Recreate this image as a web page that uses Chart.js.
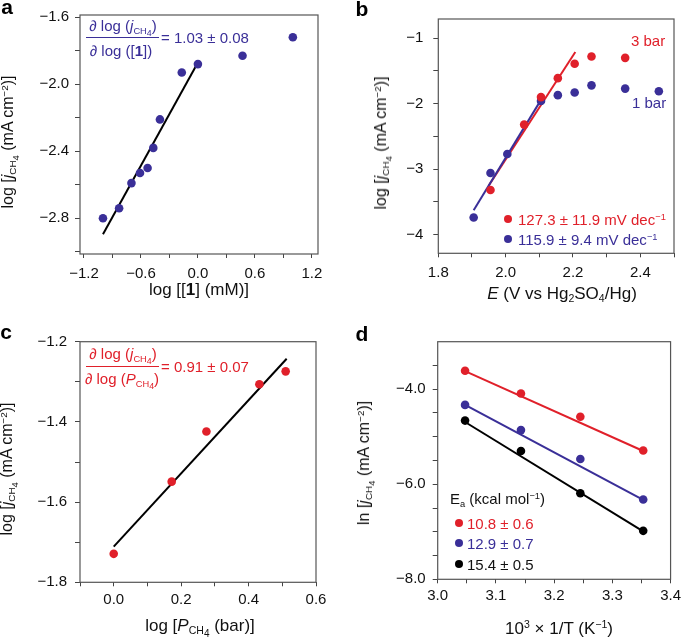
<!doctype html>
<html>
<head>
<meta charset="utf-8">
<title>CH4 oxidation kinetics</title>
<script src="https://cdn.jsdelivr.net/npm/chart.js@4.4.0/dist/chart.umd.min.js"></script>
<style>
    body { margin: 0; background: #fff; font-family: "Liberation Sans", Arial, sans-serif; }
    #wrap { position: relative; width: 685px; height: 641px; overflow: hidden; }
    canvas { position: absolute; }
    .t { position: absolute; white-space: nowrap; font-size: 15px; line-height: 1; color: #111; }
    .xt { font-size: 17px; }
    .yt { font-size: 16px; }
    .c { transform: translate(-50%, -50%); }
    .l { transform: translate(0, -50%); }
    .rot { transform: translate(-50%, -50%) rotate(-90deg); }
    .pl { font-size: 21px; font-weight: bold; color: #000; }
    sub, sup { font-size: 0.62em; line-height: 0; vertical-align: baseline; position: relative; }
    sub { top: 0.32em; }
    sup { top: -0.55em; }
    .s4 { position: relative; top: 0.25em; font-size: 0.95em; }
    .blue { color: #3a2f98; }
    .red { color: #e0202a; }
    .bar { position: absolute; height: 1px; }
    .dot { position: absolute; border-radius: 50%; transform: translate(-50%, -50%); }
</style>
</head>
<body>
<div id="wrap">
    <canvas id="chartA" width="342" height="320" style="left:0;top:0"></canvas>
    <canvas id="chartB" width="343" height="320" style="left:342px;top:0"></canvas>
    <canvas id="chartC" width="342" height="321" style="left:0;top:320px"></canvas>
    <canvas id="chartD" width="343" height="321" style="left:342px;top:320px"></canvas>

    <!-- panel letters -->
    <div class="t c pl" style="left:7px;top:6px">a</div>
    <div class="t c pl" style="left:362px;top:8px">b</div>
    <div class="t c pl" style="left:6px;top:331px">c</div>
    <div class="t c pl" style="left:362px;top:333px">d</div>

    <!-- axis titles -->
    <div class="t c xt" style="left:199px;top:289px">log [[<b>1</b>] (mM)]</div>
    <div class="t rot yt" style="left:8px;top:142px">log [<i>j</i><sub>CH<span class="s4">4</span></sub> (mA cm<sup>−2</sup>)]</div>
    <div class="t c xt" style="left:562px;top:293px"><i>E</i> (V vs Hg<sub>2</sub>SO<sub>4</sub>/Hg)</div>
    <div class="t rot yt" style="left:381px;top:143px">log [<i>j</i><sub>CH<span class="s4">4</span></sub> (mA cm<sup>−2</sup>)]</div>
    <div class="t c xt" style="left:200px;top:625px">log [<i>P</i><sub>CH<span class="s4">4</span></sub> (bar)]</div>
    <div class="t rot yt" style="left:7px;top:469px">log [<i>j</i><sub>CH<span class="s4">4</span></sub> (mA cm<sup>−2</sup>)]</div>
    <div class="t c xt" style="left:559px;top:628px">10<sup>3</sup> × 1/T (K<sup>−1</sup>)</div>
    <div class="t rot yt" style="left:364px;top:463px">ln [<i>j</i><sub>CH<span class="s4">4</span></sub> (mA cm<sup>−2</sup>)]</div>

    <!-- panel a annotation -->
    <div class="t c blue" style="left:123px;top:25px">∂ log (<i>j</i><sub>CH<span class="s4">4</span></sub>)</div>
    <div class="bar" style="left:86px;top:37px;width:73px;background:#3a2f98"></div>
    <div class="t c blue" style="left:121px;top:50px">∂ log ([<b>1</b>])</div>
    <div class="t l blue" style="left:161px;top:37px">= 1.03 ± 0.08</div>

    <!-- panel b annotation -->
    <div class="t l red" style="left:631px;top:40px">3 bar</div>
    <div class="t l blue" style="left:632px;top:102px">1 bar</div>
    <div class="dot" style="left:508px;top:219px;width:8px;height:8px;background:#e0202a"></div>
    <div class="t l red" style="left:518px;top:219px">127.3 ± 11.9 mV dec<sup>−1</sup></div>
    <div class="dot" style="left:508px;top:239px;width:8px;height:8px;background:#3a2f98"></div>
    <div class="t l blue" style="left:518px;top:239px">115.9 ± 9.4 mV dec<sup>−1</sup></div>

    <!-- panel c annotation -->
    <div class="t c red" style="left:123px;top:353px">∂ log (<i>j</i><sub>CH<span class="s4">4</span></sub>)</div>
    <div class="bar" style="left:86px;top:366px;width:73px;background:#e0202a"></div>
    <div class="t c red" style="left:122px;top:378px">∂ log (<i>P</i><sub>CH<span class="s4">4</span></sub>)</div>
    <div class="t l red" style="left:161px;top:366px">= 0.91 ± 0.07</div>

    <!-- panel d legend -->
    <div class="t l" style="left:450px;top:498px">E<sub>a</sub> (kcal mol<sup>−1</sup>)</div>
    <div class="dot" style="left:459px;top:523px;width:8px;height:8px;background:#e0202a"></div>
    <div class="t l red" style="left:467px;top:523px">10.8 ± 0.6</div>
    <div class="dot" style="left:459px;top:543px;width:8px;height:8px;background:#3a2f98"></div>
    <div class="t l blue" style="left:467px;top:543px">12.9 ± 0.7</div>
    <div class="dot" style="left:459px;top:564px;width:8px;height:8px;background:#000"></div>
    <div class="t l" style="left:467px;top:564px">15.4 ± 0.5</div>
</div>

<script>
    // ---- panel a: reaction order in [1] ----
    var aLogConc = [-1.0, -0.83, -0.70, -0.61, -0.53, -0.47, -0.40, -0.17, 0.0, 0.47, 1.0];
    var aLogJ = [-2.80, -2.74, -2.59, -2.53, -2.50, -2.38, -2.21, -1.93, -1.88, -1.83, -1.72];
    var aFitX = [-1.0, 0.0];
    var aFitY = [-2.895, -1.87];
    var aXTicks = [-1.2, -0.9, -0.6, -0.3, 0, 0.3, 0.6, 0.9, 1.2];
    var aXLabels = ['−1.2', '', '−0.6', '', '0.0', '', '0.6', '', '1.2'];
    var aYTicks = [-1.6, -1.8, -2.0, -2.2, -2.4, -2.6, -2.8, -3.0];
    var aYLabels = ['−1.6', '', '−2.0', '', '−2.4', '', '−2.8', ''];

    // ---- panel b: Tafel plots at 1 and 3 bar ----
    var bE1 = [1.905, 1.955, 2.005, 2.105, 2.155, 2.205, 2.255, 2.355, 2.455];
    var bLogJ1 = [-3.74, -3.06, -2.77, -1.96, -1.87, -1.83, -1.72, -1.77, -1.81];
    var bE3 = [1.955, 2.055, 2.105, 2.155, 2.205, 2.255, 2.355];
    var bLogJ3 = [-3.32, -2.32, -1.90, -1.61, -1.39, -1.28, -1.30];
    var bFit1X = [1.905, 2.11];
    var bFit1Y = [-3.63, -1.90];
    var bFit3X = [1.95, 2.207];
    var bFit3Y = [-3.25, -1.21];
    var bXTicks = [1.8, 1.9, 2.0, 2.1, 2.2, 2.3, 2.4, 2.5];
    var bXLabels = ['1.8', '', '2.0', '', '2.2', '', '2.4', ''];
    var bYTicks = [-1, -1.5, -2, -2.5, -3, -3.5, -4];
    var bYLabels = ['−1', '', '−2', '', '−3', '', '−4'];

    // ---- panel c: reaction order in methane pressure ----
    var cLogP = [0.0, 0.172, 0.275, 0.432, 0.510];
    var cLogJ = [-1.729, -1.549, -1.424, -1.306, -1.274];
    var cFitX = [0.0, 0.513];
    var cFitY = [-1.711, -1.2425];
    var cXTicks = [-0.1, 0, 0.1, 0.2, 0.3, 0.4, 0.5, 0.6];
    var cXLabels = ['', '0.0', '', '0.2', '', '0.4', '', '0.6'];
    var cYTicks = [-1.2, -1.3, -1.4, -1.5, -1.6, -1.7, -1.8];
    var cYLabels = ['−1.2', '', '−1.4', '', '−1.6', '', '−1.8'];

    // ---- panel d: Arrhenius plots ----
    var dInvT = [3.047, 3.143, 3.245, 3.353];
    var dRed = [-3.61, -4.09, -4.58, -5.29];
    var dBlue = [-4.33, -4.86, -5.47, -6.32];
    var dBlack = [-4.66, -5.30, -6.19, -6.98];
    var dFitX = [3.047, 3.353];
    var dFitRed = [-3.62, -5.30];
    var dFitBlue = [-4.33, -6.33];
    var dFitBlack = [-4.69, -6.99];
    var dXTicks = [3.0, 3.05, 3.1, 3.15, 3.2, 3.25, 3.3, 3.35, 3.4];
    var dXLabels = ['3.0', '', '3.1', '', '3.2', '', '3.3', '', '3.4'];
    var dYTicks = [-3.5, -4, -4.5, -5, -5.5, -6, -6.5, -7, -7.5, -8];
    var dYLabels = ['', '−4.0', '', '', '', '−6.0', '', '', '', '−8.0'];

    var RED = '#e0202a', BLUE = '#3a2f98', BLACK = '#000';

    Chart.defaults.font.family = '"Liberation Sans", Arial, sans-serif';
    Chart.defaults.font.size = 15;
    Chart.defaults.color = '#111';

    function pts(xs, ys) {
        return xs.map(function (x, i) { return {x: x, y: ys[i]}; });
    }

    function dots(xs, ys, color) {
        return {data: pts(xs, ys), backgroundColor: color, borderColor: color, pointRadius: 4.3,
            pointBorderWidth: 0, showLine: false};
    }

    function fit(xs, ys, color) {
        return {data: pts(xs, ys), borderColor: color, borderWidth: 2, pointRadius: 0, showLine: true, fill: false};
    }

    function axis(vals, labels, min, max, size, isX, tickLen, pad) {
        return {
            type: 'linear', min: min, max: max,
            afterBuildTicks: function (s) {
                s.ticks = vals.map(function (v) { return {value: v}; });
            },
            afterFit: function (s) {
                if (isX) { s.height = size; } else { s.width = size; }
            },
            border: {display: false},
            grid: {drawOnChartArea: false, drawTicks: true, tickLength: tickLen, color: '#444', lineWidth: 1},
            ticks: {autoSkip: false, maxRotation: 0, padding: pad, color: '#111',
                callback: function (v, i) { return labels[i]; }}
        };
    }

    // box round the plot area
    var frame = {
        id: 'frame',
        afterDraw: function (chart) {
            var a = chart.chartArea, ctx = chart.ctx;
            ctx.save();
            ctx.strokeStyle = '#555';
            ctx.lineWidth = 1.2;
            ctx.strokeRect(a.left, a.top, a.right - a.left, a.bottom - a.top);
            ctx.restore();
        }
    };

    function panel(id, datasets, xAxis, yAxis, pad) {
        return new Chart(document.getElementById(id), {
            type: 'scatter',
            data: {datasets: datasets},
            options: {
                responsive: false,
                animation: false,
                layout: {padding: pad},
                plugins: {legend: {display: false}, tooltip: {enabled: false}},
                scales: {x: xAxis, y: yAxis}
            },
            plugins: [frame]
        });
    }

    panel('chartA',
        [dots(aLogConc, aLogJ, BLUE), fit(aFitX, aFitY, BLACK)],
        axis(aXTicks, aXLabels, -1.242, 1.265, 66, true, 4, 7),
        axis(aYTicks, aYLabels, -3.013, -1.587, 80, false, 5, 6),
        {left: 0, top: 13.5, right: 24, bottom: 0});

    panel('chartB',
        [dots(bE3, bLogJ3, RED), dots(bE1, bLogJ1, BLUE), fit(bFit1X, bFit1Y, BLUE), fit(bFit3X, bFit3Y, RED)],
        axis(bXTicks, bXLabels, 1.8, 2.5, 66.7, true, 4, 7),
        axis(bYTicks, bYLabels, -4.287, -0.706, 96.3, false, 5, 10),
        {left: 0, top: 12.5, right: 11, bottom: 0});

    panel('chartC',
        [dots(cLogP, cLogJ, RED), fit(cFitX, cFitY, BLACK)],
        axis(cXTicks, cXLabels, -0.1, 0.6, 58.7, true, 4, 5),
        axis(cYTicks, cYLabels, -1.8, -1.2, 80, false, 5, 8),
        {left: 0, top: 21.7, right: 26, bottom: 0});

    panel('chartD',
        [dots(dInvT, dRed, RED), dots(dInvT, dBlue, BLUE), dots(dInvT, dBlack, BLACK),
            fit(dFitX, dFitRed, RED), fit(dFitX, dFitBlue, BLUE), fit(dFitX, dFitBlack, BLACK)],
        axis(dXTicks, dXLabels, 3.0, 3.4, 61.7, true, 4, 4),
        axis(dYTicks, dYLabels, -8.0, -3.0, 95.7, false, 5, 7),
        {left: 0, top: 21.7, right: 11, bottom: 0});
</script>
</body>
</html>
